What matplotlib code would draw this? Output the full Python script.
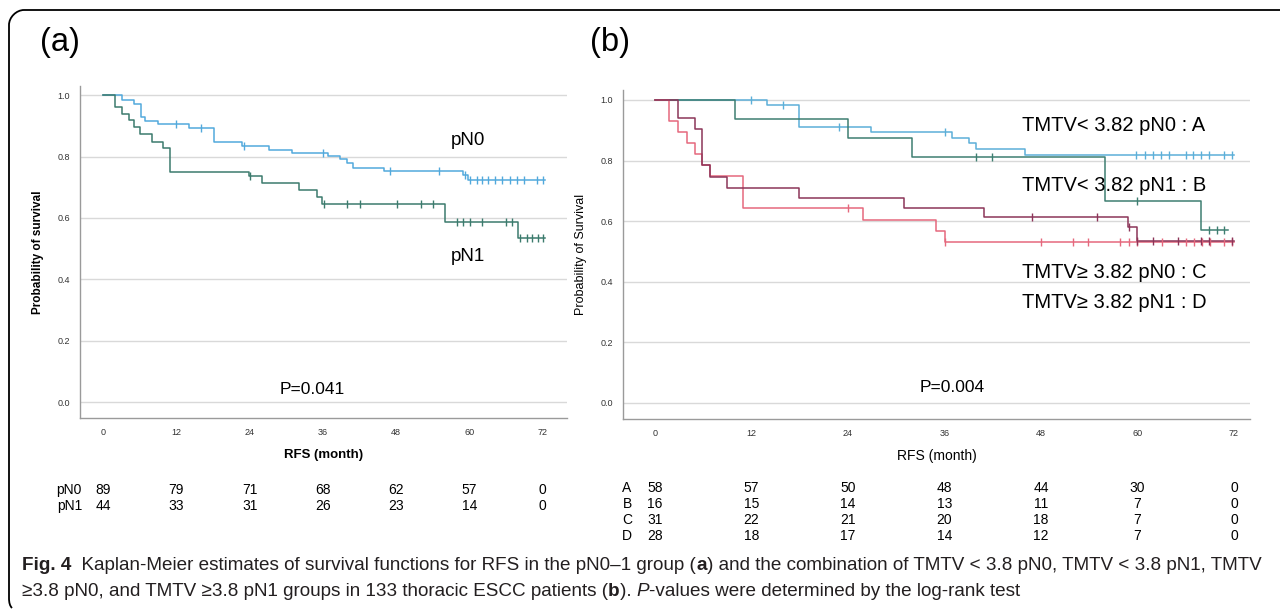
import numpy as np
import matplotlib
matplotlib.use("Agg")
import matplotlib.pyplot as plt
from matplotlib.path import Path
from matplotlib.patches import PathPatch
from matplotlib.transforms import blended_transform_factory

plt.rcParams['font.family'] = ['Liberation Sans', 'DejaVu Sans']

W, H = 1284, 611

# ---- panel (a): pN0 / pN1 ----
pn0_t = [0, 3.1, 5.0, 6.2, 6.8, 9.0, 14.1, 18.2, 22.8, 27.1, 31.0, 36.9, 38.8, 39.9, 41.0, 46.0, 58.9, 59.8]
pn0_s = [1.0, 0.984, 0.970, 0.930, 0.916, 0.905, 0.893, 0.846, 0.834, 0.821, 0.811, 0.802, 0.791, 0.778, 0.764, 0.753, 0.740, 0.725]
pn0_cens = [12.0, 16.0, 23.0, 36.0, 47.0, 55.0, 59.3, 60.1, 61.2, 62.0, 63.1, 64.2, 65.3, 66.6, 67.8, 68.9, 71.1, 72.0]
pn0_end = 72.3

pn1_t = [0, 2.0, 3.1, 4.2, 5.0, 6.1, 8.0, 9.9, 11.0, 23.9, 26.1, 32.1, 35.1, 35.9, 56.0, 67.9]
pn1_s = [1.0, 0.962, 0.940, 0.919, 0.898, 0.873, 0.847, 0.827, 0.750, 0.737, 0.713, 0.692, 0.669, 0.645, 0.587, 0.533]
pn1_cens = [24.0, 36.1, 40.0, 42.0, 48.1, 52.1, 54.0, 58.0, 59.0, 60.0, 62.0, 65.9, 66.9, 68.3, 69.4, 70.2, 71.2, 72.0]
pn1_end = 72.3

# ---- panel (b): TMTV x pN groups ----
a_t = [0, 13.9, 17.9, 26.9, 36.9, 39.0, 39.9, 46.0]
a_s = [1.0, 0.984, 0.912, 0.895, 0.876, 0.858, 0.838, 0.819]
a_cens = [11.9, 15.9, 22.9, 36.0, 59.8, 60.9, 61.9, 62.9, 63.9, 66.0, 66.9, 67.9, 68.9, 70.8, 71.8]
a_end = 72.0

b_t = [0, 10.0, 24.0, 32.0, 55.9, 67.9]
b_s = [1.0, 0.938, 0.875, 0.813, 0.666, 0.571]
b_cens = [39.9, 41.9, 59.9, 68.9, 69.9, 70.8]
b_end = 71.3

c_t = [0, 2.8, 5.0, 5.9, 6.8, 9.0, 17.9, 31.0, 40.9, 58.8, 59.9]
c_s = [1.0, 0.939, 0.904, 0.786, 0.745, 0.710, 0.677, 0.644, 0.613, 0.580, 0.536]
c_cens = [46.9, 55.0, 59.0, 60.0, 61.9, 65.0, 67.9, 68.9, 71.8]
c_end = 72.0

d_t = [0, 1.8, 2.8, 4.0, 5.0, 5.9, 6.9, 10.9, 25.9, 35.0, 36.0]
d_s = [1.0, 0.931, 0.893, 0.858, 0.821, 0.786, 0.750, 0.643, 0.605, 0.567, 0.531]
d_cens = [24.0, 36.0, 48.0, 52.0, 53.9, 57.8, 59.0, 59.9, 63.0, 66.0, 67.0, 68.0, 69.0, 70.8, 71.8]
d_end = 72.0

# numbers at risk
months = [0, 12, 24, 36, 48, 60, 72]
risk_a_labels = ['pN0', 'pN1']
risk_a = [[89, 79, 71, 68, 62, 57, 0],
          [44, 33, 31, 26, 23, 14, 0]]
risk_b_labels = ['A', 'B', 'C', 'D']
risk_b = [[58, 57, 50, 48, 44, 30, 0],
          [16, 15, 14, 13, 11, 7, 0],
          [31, 22, 21, 20, 18, 7, 0],
          [28, 18, 17, 14, 12, 7, 0]]

col_pn0 = '#52A9DC'
col_pn1 = '#3C7B6D'
col_a = '#5CAFD8'
col_b = '#3E7E71'
col_c = '#8C3559'
col_d = '#E5687D'


def km(ax, t, s, cens, end, color):
    tt = list(t) + [end]
    ss = list(s) + [s[-1]]
    ax.step(tt, ss, where='post', color=color, lw=1.1, zorder=3)
    idx = np.searchsorted(np.array(t), np.array(cens), side='right') - 1
    ax.plot(cens, np.array(s)[idx], ls='none', marker='|', ms=6, mew=1.0,
            color=color, zorder=4)


def style_axes(ax, xlim, ylim):
    ax.set_xlim(*xlim)
    ax.set_ylim(*ylim)
    ax.set_xticks(months)
    ax.set_yticks([0.0, 0.2, 0.4, 0.6, 0.8, 1.0])
    ax.set_yticklabels(['0.0', '0.2', '0.4', '0.6', '0.8', '1.0'])
    ax.grid(axis='y', color='#d9d9d9', lw=1.0)
    ax.set_axisbelow(True)
    for sp in ['top', 'right']:
        ax.spines[sp].set_visible(False)
    for sp in ['left', 'bottom']:
        ax.spines[sp].set_color('#9a9a9a')
        ax.spines[sp].set_linewidth(1.0)
    ax.tick_params(length=0, labelsize=6.5, labelcolor='#333333', pad=7)


fig = plt.figure(figsize=(W / 100, H / 100), dpi=100)

# panel a
ax1 = fig.add_axes([80 / W, 1 - 418 / H, 487 / W, 332 / H])
km(ax1, pn0_t, pn0_s, pn0_cens, pn0_end, col_pn0)
km(ax1, pn1_t, pn1_s, pn1_cens, pn1_end, col_pn1)
style_axes(ax1, (-3.77, 75.96), (-0.052, 1.03))
ax1.set_xlabel('RFS (month)', fontsize=9.5, fontweight='bold', labelpad=9)
ax1.set_ylabel('Probability of survival', fontsize=8.5, fontweight='bold', labelpad=10)
ax1.text(59.8, 0.852, 'pN0', fontsize=13.5, ha='center', va='center')
ax1.text(59.8, 0.473, 'pN1', fontsize=13.5, ha='center', va='center')
ax1.text(34.3, 0.04, 'P=0.041', fontsize=12.5, ha='center', va='center')

# panel b
ax2 = fig.add_axes([623 / W, 1 - 419 / H, 627 / W, 329 / H])
km(ax2, a_t, a_s, a_cens, a_end, col_a)
km(ax2, b_t, b_s, b_cens, b_end, col_b)
km(ax2, d_t, d_s, d_cens, d_end, col_d)
km(ax2, c_t, c_s, c_cens, c_end, col_c)
style_axes(ax2, (-3.98, 73.99), (-0.053, 1.033))
ax2.set_xlabel('RFS (month)', fontsize=10, labelpad=8)
ax2.set_ylabel('Probability of Survival', fontsize=9, labelpad=10)
grp_labels = ['TMTV< 3.82 pN0 : A', 'TMTV< 3.82 pN1 : B',
              'TMTV\u2265 3.82 pN0 : C', 'TMTV\u2265 3.82 pN1 : D']
grp_y = [0.917, 0.719, 0.432, 0.33]
for lab, yy in zip(grp_labels, grp_y):
    ax2.text(45.6, yy, lab, fontsize=14.5, ha='left', va='center')
ax2.text(37.0, 0.05, 'P=0.004', fontsize=12.5, ha='center', va='center')

# numbers at risk
tr1 = blended_transform_factory(ax1.transData, fig.transFigure)
for i, (lab, row) in enumerate(zip(risk_a_labels, risk_a)):
    yy = 1 - (490 + 16 * i) / H
    fig.text(82 / W, yy, lab, fontsize=10, ha='right', va='center')
    for m, n in zip(months, row):
        ax1.text(m, yy, str(n), transform=tr1, fontsize=10, ha='center', va='center')

tr2 = blended_transform_factory(ax2.transData, fig.transFigure)
for i, (lab, row) in enumerate(zip(risk_b_labels, risk_b)):
    yy = 1 - (488 + 16 * i) / H
    fig.text(627 / W, yy, lab, fontsize=10, ha='center', va='center')
    for m, n in zip(months, row):
        ax2.text(m, yy, str(n), transform=tr2, fontsize=10, ha='center', va='center')

# panel letters
fig.text(40 / W, 1 - 42 / H, '(a)', fontsize=23.5, ha='left', va='center')
fig.text(590 / W, 1 - 42 / H, '(b)', fontsize=23.5, ha='left', va='center')

# border (top + left with rounded corners)
k = 0.55
verts = [(1280, 10), (24, 10), (24 - 14 * k, 10), (9, 25 - 14 * k), (9, 25),
         (9, 598), (9, 603), (10, 606), (12, 608)]
codes = [Path.MOVETO, Path.LINETO, Path.CURVE4, Path.CURVE4, Path.CURVE4,
         Path.LINETO, Path.CURVE4, Path.CURVE4, Path.CURVE4]
verts = [(x / W, 1 - y / H) for x, y in verts]
fig.add_artist(PathPatch(Path(verts, codes), transform=fig.transFigure,
                         fill=False, ec='black', lw=1.3))

# caption, written as runs of differently styled text
cap_font = ['Liberation Sans', 'DejaVu Sans']
cap_col = '#231f20'
cap_size = 13.6
renderer = fig.canvas.get_renderer()


def runs(x0, y, parts):
    x = x0
    for txt, kw in parts:
        t = fig.text(x / W, 1 - y / H, txt, fontsize=cap_size, color=cap_col,
                     family=cap_font, ha='left', va='center', **kw)
        bb = t.get_window_extent(renderer)
        x = bb.x1


B = {'fontweight': 'bold'}
N = {}
I = {'style': 'italic'}
runs(22, 565, [('Fig. 4', B),
               ('  Kaplan-Meier estimates of survival functions for RFS in the pN0\u20131 group (', N),
               ('a', B),
               (') and the combination of TMTV < 3.8 pN0, TMTV < 3.8 pN1, TMTV', N)])
runs(22, 592, [('\u22653.8 pN0, and TMTV \u22653.8 pN1 groups in 133 thoracic ESCC patients (', N),
               ('b', B),
               ('). ', N),
               ('P', I),
               ('-values were determined by the log-rank test', N)])

fig.savefig('out.png', dpi=100)
